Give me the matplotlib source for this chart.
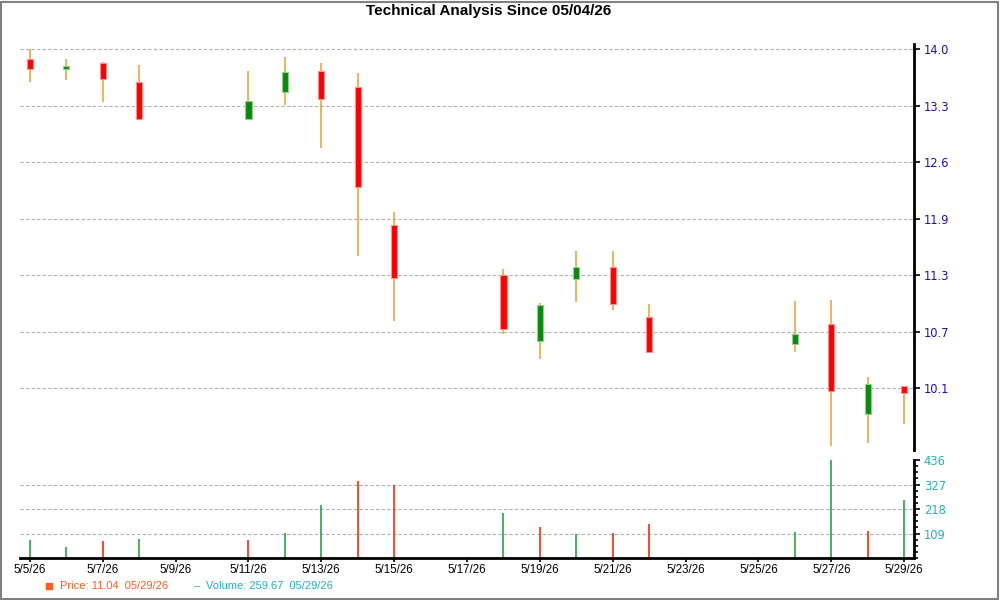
import numpy as np
import matplotlib
matplotlib.use('Agg')
import matplotlib.pyplot as plt
from matplotlib.patches import Rectangle
from matplotlib.lines import Line2D
from matplotlib.ticker import AutoMinorLocator

# trading days (day of May 2026)
days = [5, 6, 7, 8, 11, 12, 13, 14, 15, 18, 19, 20, 21, 22, 26, 27, 28, 29]
opens = [13.89, 13.77, 13.84, 13.62, 13.20, 13.51, 13.75, 13.56, 11.98,
         11.40, 10.64, 11.35, 11.49, 10.92, 10.61, 10.84, 9.80, 10.12]
highs = [14.00, 13.88, 13.85, 13.82, 13.75, 13.91, 13.84, 13.72, 12.12,
         11.47, 11.08, 11.68, 11.68, 11.07, 11.10, 11.11, 10.23, 10.12]
lows = [13.62, 13.64, 13.39, 13.18, 13.20, 13.36, 12.86, 11.62, 10.87,
        10.72, 10.43, 11.09, 11.00, 10.51, 10.51, 9.43, 9.47, 9.69]
closes = [13.77, 13.81, 13.65, 13.20, 13.40, 13.74, 13.42, 12.41, 11.37,
          10.78, 11.06, 11.49, 11.07, 10.51, 10.72, 10.07, 10.15, 10.04]
volumes = [79, 51, 75, 84, 79, 110, 236, 343, 325,
           200, 137, 106, 110, 151, 115, 436, 120, 258]
vol_up = [1, 1, 0, 1, 0, 1, 1, 0, 0, 1, 0, 1, 0, 0, 1, 1, 0, 1]

date_ticks = list(range(5, 30, 2))
date_labels = ['5/%d/26' % d for d in date_ticks]
price_labels = ['10.1', '10.7', '11.3', '11.9', '12.6', '13.3', '14.0']
vol_ticks = [109, 218, 327, 436]

fig = plt.figure(figsize=(10, 6), dpi=100)
fig.patches.append(Rectangle((0.0005, 0.001), 0.997, 0.996, transform=fig.transFigure,
                             fill=False, edgecolor='#808080', lw=1.5))

ax = fig.add_axes([0.02, 0.25, 0.894, 0.6767])
axv = fig.add_axes([0.02, 0.07, 0.894, 0.1633], sharex=ax)

days = np.array(days)
opens = np.array(opens)
closes = np.array(closes)
up = closes >= opens

# wicks
ax.vlines(days, lows, highs, color='#f39a2b', lw=1.1, zorder=2)
# bodies
body_lo = np.minimum(opens, closes)
body_h = np.abs(closes - opens)
ax.bar(days[up], body_h[up], bottom=body_lo[up], width=0.17, color='#0a8a0a',
       edgecolor='#8fd08f', lw=0.8, zorder=3)
ax.bar(days[~up], body_h[~up], bottom=body_lo[~up], width=0.17, color='#ff0000',
       edgecolor='#ff9090', lw=0.8, zorder=3)

ax.set_ylim(9.387, 14.058)
ax.set_xlim(4.73, 29.27)
ax.yaxis.tick_right()
ax.set_yticks(np.linspace(10.1, 14.0, 7))
ax.set_yticklabels(price_labels)
ax.tick_params(axis='y', colors='black', labelcolor='#1a0fcc', labelsize=8.3,
               length=4, width=1.2, pad=3)
ax.tick_params(axis='x', bottom=False, labelbottom=False)
ax.grid(axis='y', color='#b0b0b0', ls=(0, (3, 2)), lw=0.8)
for s in ['left', 'top', 'bottom']:
    ax.spines[s].set_visible(False)
ax.spines['right'].set_linewidth(2)

# volume
vcols = ['#1faa3c' if u else '#ff2a00' for u in vol_up]
axv.vlines(days, 0, volumes, colors=vcols, lw=1.2)
axv.set_ylim(0, 436)
axv.yaxis.tick_right()
axv.set_yticks(vol_ticks)
axv.yaxis.set_minor_locator(AutoMinorLocator(4))
axv.tick_params(axis='y', which='major', labelcolor='#20b0c0', labelsize=8.3,
                length=4, width=1.2, pad=3)
axv.tick_params(axis='y', which='minor', length=3, width=1.2)
axv.set_xticks(date_ticks)
axv.set_xticklabels(date_labels, family='Liberation Sans')
axv.tick_params(axis='x', labelsize=8.3, length=3, width=1.2, pad=1.5)
for v in vol_ticks[:-1]:
    axv.axhline(v, color='#b0b0b0', ls=(0, (3, 2)), lw=0.8, zorder=0)
for s in ['left', 'top']:
    axv.spines[s].set_visible(False)
axv.spines['right'].set_linewidth(2)
axv.spines['bottom'].set_linewidth(2)

fig.text(0.4885, 0.982, 'Technical Analysis Since 05/04/26', ha='center', va='center',
         fontsize=11, fontweight='bold', family='Liberation Sans')

# legend line at bottom
fig.lines.append(Line2D([0.049], [0.023], marker='s', markersize=5, color='#ff5a1f',
                        transform=fig.transFigure))
fig.text(0.06, 0.023, 'Price: 11.04  05/29/26', color='#ff5a1f', fontsize=8,
         va='center', family='Liberation Sans')
fig.text(0.194, 0.023, '\u2013', color='#20b0c0', fontsize=8, va='center',
         family='Liberation Sans')
fig.text(0.206, 0.023, 'Volume: 259.67  05/29/26', color='#20b0c0', fontsize=8,
         va='center', family='Liberation Sans')

fig.savefig('out.png', dpi=100)
